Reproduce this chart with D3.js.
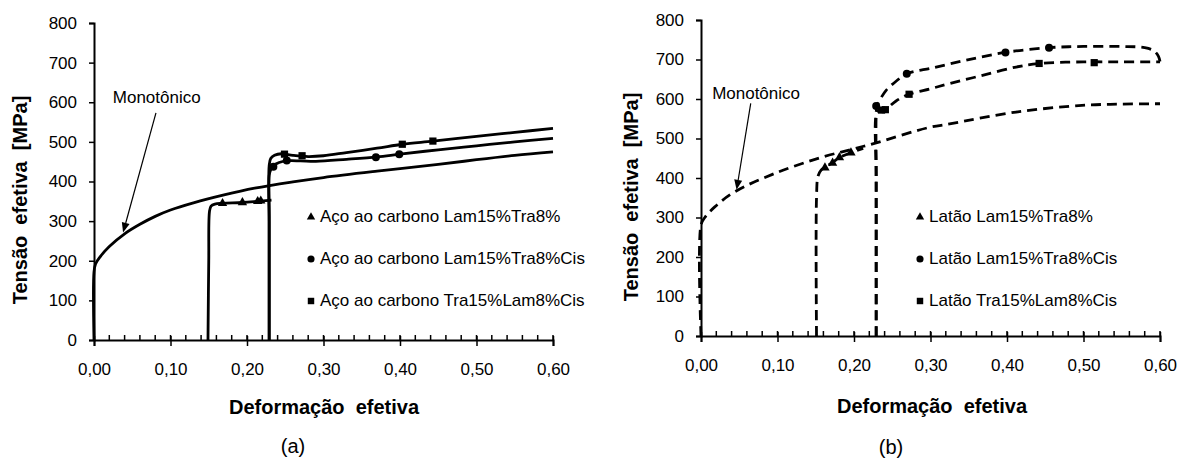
<!DOCTYPE html>
<html>
<head>
<meta charset="utf-8">
<script src="https://cdn.jsdelivr.net/npm/d3@7"></script>
<style>
  body { margin: 0; background: #fff; }
  svg text { font-family: "Liberation Sans", Arial, sans-serif; fill: #000; }
</style>
</head>
<body>
<svg id="chart" width="1177" height="458"></svg>
<script>
// Eixos comuns
const xTicks = [0, 0.1, 0.2, 0.3, 0.4, 0.5, 0.6];
const xTickLabels = ["0,00", "0,10", "0,20", "0,30", "0,40", "0,50", "0,60"];
const xMinorTicks = d3.range(0, 0.6001, 0.02);
const yTicks = [0, 100, 200, 300, 400, 500, 600, 700, 800];

// Painel (a) - Aço ao carbono
const monoA = [[0,0],[0,172],[0.002,192],[0.008,210],[0.02,236],[0.04,268],[0.06,292],[0.08,312],[0.10,328],[0.13,346],[0.17,366],[0.21,383],[0.26,399],[0.30,410],[0.37,426],[0.45,443],[0.50,455],[0.55,466],[0.60,475]];
const acoLam15Tra8 = [[0.149,0],[0.150,200],[0.151,325],[0.153,338],[0.158,343],[0.168,345],[0.194,347],[0.214,350],[0.232,353]];
const acoLam15Tra8Pts = [[0.168,345],[0.194,347],[0.214,350],[0.218,351]];
const acoLam15Tra8Cis = [[0.229,0],[0.229,300],[0.229,415],[0.231,430],[0.2345,440],[0.242,448],[0.252,452],[0.27,452],[0.29,451],[0.33,456],[0.37,462],[0.40,469],[0.45,480],[0.50,490],[0.55,500],[0.60,509]];
const acoLam15Tra8CisPts = [[0.2345,437],[0.252,453],[0.3685,461],[0.399,469]];
const acoTra15Lam8Cis = [[0.229,0],[0.229,300],[0.229,440],[0.231,458],[0.236,466],[0.245,470],[0.26,466],[0.28,463],[0.30,465],[0.33,473],[0.37,484],[0.403,494],[0.443,502],[0.50,514],[0.55,524],[0.60,534]];
const acoTra15Lam8CisPts = [[0.249,469],[0.272,465],[0.403,494],[0.443,502]];
const legendA = ["Aço ao carbono Lam15%Tra8%", "Aço ao carbono Lam15%Tra8%Cis", "Aço ao carbono Tra15%Lam8%Cis"];

// Painel (b) - Latão
const monoB = [[0,0],[0,281],[0.005,300],[0.018,327],[0.044,365],[0.097,412],[0.157,452],[0.20,474],[0.229,489],[0.296,527],[0.325,537],[0.412,567],[0.498,584],[0.55,587],[0.60,588]];
const latLam15Tra8 = [[0.151,0],[0.151,350],[0.153,405],[0.157,420],[0.162,427],[0.172,439],[0.181,452],[0.196,464],[0.212,475]];
const latLam15Tra8Pts = [[0.162,426],[0.172,438],[0.181,452],[0.196,464]];
const latLam15Tra8Cis = [[0.229,0],[0.229,400],[0.229,560],[0.230,582],[0.236,605],[0.242,622],[0.255,645],[0.269,664],[0.303,679],[0.346,698],[0.398,718],[0.455,730],[0.50,733],[0.55,733],[0.58,730],[0.592,722],[0.598,708],[0.600,695]];
const latLam15Tra8CisPts = [[0.229,582],[0.269,664],[0.398,718],[0.455,730]];
const latTra15Lam8Cis = [[0.229,0],[0.229,400],[0.229,560],[0.232,570],[0.241,574],[0.255,595],[0.272,612],[0.30,626],[0.325,639],[0.368,660],[0.412,681],[0.442,690],[0.50,694],[0.55,694],[0.60,694]];
const latTra15Lam8CisPts = [[0.236,572],[0.241,573],[0.272,612],[0.442,690],[0.514,692]];
const legendB = ["Latão Lam15%Tra8%", "Latão Lam15%Tra8%Cis", "Latão Tra15%Lam8%Cis"];

const symbols = [d3.symbolTriangle, d3.symbolCircle, d3.symbolSquare];
const symbolSizes = [38, 50, 52];

const svg = d3.select("#chart");

function drawPanel(cfg) {
    const g = svg.append("g").attr("transform", `translate(${cfg.left},${cfg.top})`);
    const width = 459, height = cfg.height;

    const x = d3.scaleLinear().domain([0, 0.6]).range([0, width]);
    const y = d3.scaleLinear().domain([0, 800]).range([height, 0]);

    // Curvas
    const line = d3.line()
        .x(d => x(d[0]))
        .y(d => y(d[1]))
        .curve(d3.curveCatmullRom.alpha(0.5));

    cfg.curves.forEach(c => {
        g.append("path")
            .attr("d", line(c))
            .attr("fill", "none")
            .attr("stroke", "#000")
            .attr("stroke-width", 2.8)
            .attr("stroke-dasharray", cfg.dash)
            .attr("stroke-linejoin", "round");
    });

    // Marcadores
    cfg.points.forEach((pts, i) => {
        g.selectAll(null)
            .data(pts)
            .enter()
            .append("path")
            .attr("d", d3.symbol(symbols[i], symbolSizes[i]))
            .attr("transform", d => `translate(${x(d[0])},${y(d[1])})`)
            .attr("fill", "#000");
    });

    // Eixo X
    const xAxis = g.append("g")
        .attr("transform", `translate(0,${height})`)
        .call(d3.axisBottom(x)
            .tickValues(xTicks)
            .tickFormat((d, i) => xTickLabels[i])
            .tickSize(6)
            .tickPadding(cfg.xPad));
    xAxis.select(".domain").attr("stroke-width", 2);
    xAxis.selectAll(".tick line").attr("stroke-width", 1.5).attr("y1", -4);
    xAxis.selectAll("text").style("font-size", "17px");

    g.selectAll(".minor")
        .data(xMinorTicks)
        .enter()
        .append("line")
        .attr("x1", d => x(d))
        .attr("x2", d => x(d))
        .attr("y1", height)
        .attr("y2", height - 5)
        .attr("stroke", "#000")
        .attr("stroke-width", 1.5);

    // Eixo Y
    const yAxis = g.append("g")
        .call(d3.axisLeft(y)
            .tickValues(yTicks)
            .tickSize(5)
            .tickPadding(12));
    yAxis.select(".domain").attr("stroke-width", 2);
    yAxis.selectAll(".tick line").attr("stroke-width", 1.5);
    yAxis.selectAll("text").style("font-size", "17px");

    // Títulos dos eixos
    g.append("text")
        .attr("x", cfg.xTitleX)
        .attr("y", cfg.xTitleY)
        .attr("text-anchor", "middle")
        .style("font-size", "20px")
        .style("font-weight", "bold")
        .style("white-space", "pre")
        .text("Deformação  efetiva");

    g.append("text")
        .attr("transform", `translate(${cfg.yTitleX},${cfg.yTitleY}) rotate(-90)`)
        .attr("text-anchor", "middle")
        .style("font-size", "20px")
        .style("font-weight", "bold")
        .style("white-space", "pre")
        .text("Tensão  efetiva  [MPa]");

    // Legenda
    cfg.legend.forEach((label, i) => {
        const ly = cfg.legendY + i * 42;
        g.append("path")
            .attr("d", d3.symbol(symbols[i], symbolSizes[i] * 0.8))
            .attr("transform", `translate(${cfg.legendX},${ly - 5})`)
            .attr("fill", "#000");
        g.append("text")
            .attr("x", cfg.legendX + 9)
            .attr("y", ly)
            .style("font-size", "17px")
            .text(label);
    });

    // Anotação "Monotônico"
    const a = cfg.note;
    g.append("text")
        .attr("x", x(a.text[0]))
        .attr("y", y(a.text[1]))
        .attr("text-anchor", "middle")
        .style("font-size", "17px")
        .text("Monotônico");

    const x1 = x(a.from[0]), y1 = y(a.from[1]);
    const x2 = x(a.to[0]), y2 = y(a.to[1]);
    const ang = Math.atan2(y2 - y1, x2 - x1);
    const len = 10, half = 4;
    const bx = x2 - len * Math.cos(ang), by = y2 - len * Math.sin(ang);
    g.append("line")
        .attr("x1", x1).attr("y1", y1)
        .attr("x2", bx).attr("y2", by)
        .attr("stroke", "#000")
        .attr("stroke-width", 1.2);
    g.append("path")
        .attr("d", `M${x2},${y2}L${bx + half * Math.sin(ang)},${by - half * Math.cos(ang)}L${bx - half * Math.sin(ang)},${by + half * Math.cos(ang)}Z`)
        .attr("fill", "#000");

    // Rótulo do painel
    g.append("text")
        .attr("x", cfg.tagX)
        .attr("y", cfg.tagY)
        .attr("text-anchor", "middle")
        .style("font-size", "20px")
        .text(cfg.tag);
}

drawPanel({
    left: 94, top: 23, height: 317,
    curves: [monoA, acoLam15Tra8, acoLam15Tra8Cis, acoTra15Lam8Cis],
    points: [acoLam15Tra8Pts, acoLam15Tra8CisPts, acoTra15Lam8CisPts],
    dash: null,
    xPad: 17,
    xTitleX: 230, xTitleY: 391,
    yTitleX: -67, yTitleY: 177,
    legend: legendA, legendX: 217, legendY: 199,
    note: { text: [0.082, 598], from: [0.081, 573], to: [0.038, 271] },
    tag: "(a)", tagX: 199, tagY: 430
});

drawPanel({
    left: 701, top: 20, height: 316,
    curves: [monoB, latLam15Tra8, latLam15Tra8Cis, latTra15Lam8Cis],
    points: [latLam15Tra8Pts, latLam15Tra8CisPts, latTra15Lam8CisPts],
    dash: "10,6",
    xPad: 17,
    xTitleX: 231, xTitleY: 393,
    yTitleX: -63, yTitleY: 177,
    legend: legendB, legendX: 219, legendY: 202,
    note: { text: [0.072, 600], from: [0.065, 589], to: [0.0465, 370] },
    tag: "(b)", tagX: 190, tagY: 434
});
</script>
</body>
</html>
